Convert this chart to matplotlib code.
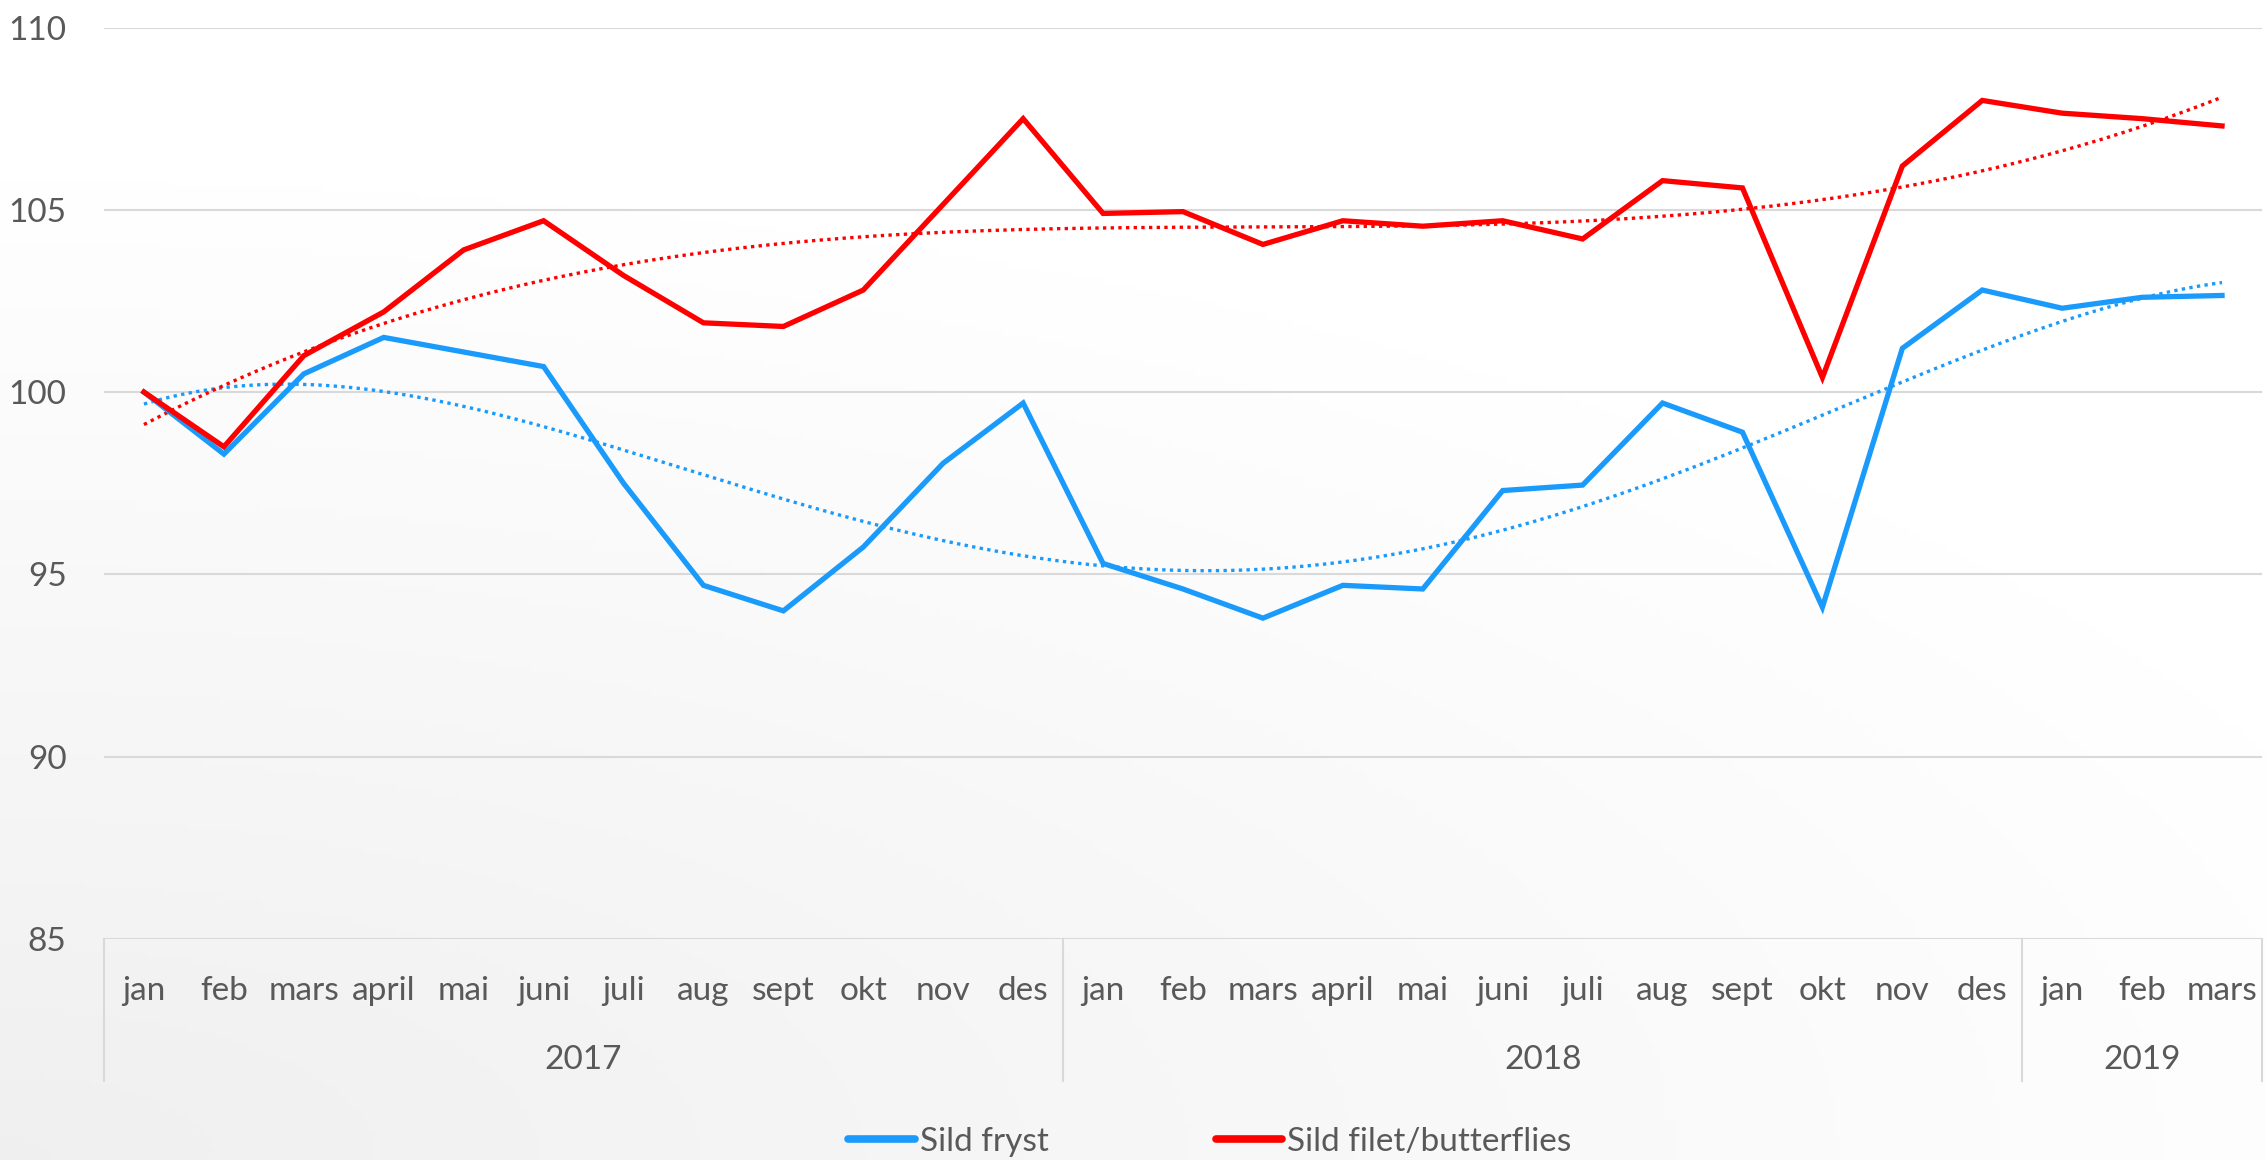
import numpy as np
import matplotlib
matplotlib.use("Agg")
import matplotlib.pyplot as plt
from matplotlib.lines import Line2D
import matplotlib.transforms as mtransforms

# ================= DATA =================
months = ["jan", "feb", "mars", "april", "mai", "juni", "juli", "aug", "sept", "okt", "nov", "des",
          "jan", "feb", "mars", "april", "mai", "juni", "juli", "aug", "sept", "okt", "nov", "des",
          "jan", "feb", "mars"]
years = ["2017", "2018", "2019"]
year_counts = [12, 12, 3]

sild_fryst = [100.0, 98.3, 100.5, 101.5, 101.1, 100.7, 97.5, 94.7, 94.0, 95.75, 98.05, 99.7,
              95.3, 94.6, 93.8, 94.7, 94.6, 97.3, 97.45, 99.7, 98.9, 94.1, 101.2, 102.8,
              102.3, 102.6, 102.65]
sild_filet = [100.0, 98.5, 101.0, 102.2, 103.9, 104.7, 103.2, 101.9, 101.8, 102.8, 105.15, 107.5,
              104.9, 104.95, 104.05, 104.7, 104.55, 104.7, 104.2, 105.8, 105.6, 100.4, 106.2, 108.0,
              107.65, 107.5, 107.3]

series_names = ["Sild fryst", "Sild filet/butterflies"]
colors = ["#1A9BFC", "#FF0000"]
trend_order = [4, 3]

# ================= STYLE =================
plt.rcParams['font.family'] = ['Lato', 'DejaVu Sans']
txt_col = "#595959"
fs = 24

W, H = 2266, 1160
fig = plt.figure(figsize=(W / 100, H / 100), dpi=100)

# background gradient (grey bottom-left -> white)
bg = fig.add_axes([0, 0, 1, 1], zorder=-10)
gx, gy = np.meshgrid(np.linspace(0, 1, 400), np.linspace(0, 1, 200))
d = np.clip(1 - np.sqrt((gx * 1.0) ** 2 + (gy * 1.3) ** 2) / 1.1, 0, 1)
shade = 1 - 0.06 * d
bg.imshow(np.dstack([shade, shade, shade]), origin="lower", extent=[0, 1, 0, 1], aspect="auto")
bg.axis("off")

ax = fig.add_axes([104 / W, 1 - 939 / H, (2262 - 104) / W, (939 - 27.5) / H])
ax.patch.set_alpha(0)

x = np.arange(len(months))

for vals, name, c, order in zip([sild_fryst, sild_filet], series_names, colors, trend_order):
    ax.plot(x, vals, color=c, lw=3.8, solid_joinstyle="miter", zorder=3, label=name)
    # polynomial trendline, like Excel
    coef = np.polyfit(x, vals, order)
    xs = np.linspace(0, len(months) - 1, 300)
    ax.plot(xs, np.polyval(coef, xs), color=c, lw=2.4, ls=(0, (1, 1.3)), zorder=2)

ax.set_xlim(-0.5, len(months) - 0.5)
ax.set_ylim(85, 110)
ax.set_yticks([85, 90, 95, 100, 105, 110])
ax.yaxis.grid(True, color="#D9D9D9", lw=1.5)
ax.set_axisbelow(True)
for s in ["top", "right", "left", "bottom"]:
    ax.spines[s].set_visible(False)
ax.tick_params(axis="y", length=0, labelsize=fs, labelcolor=txt_col, pad=27)

ax.set_xticks(x)
ax.set_xticklabels(months)
ax.tick_params(axis="x", length=0, labelsize=fs, labelcolor=txt_col, pad=27)

# year level of the category axis
trans = mtransforms.blended_transform_factory(ax.transData, ax.transAxes)
start = 0
bounds = [-0.5]
for yr, n in zip(years, year_counts):
    mid = start + (n - 1) / 2
    ax.text(mid, -0.133, yr, transform=trans, ha="center", va="center", fontsize=fs, color=txt_col)
    start += n
    bounds.append(start - 0.5)
for b in bounds:
    ax.add_line(Line2D([b, b], [0, -0.156], transform=trans, color="#D9D9D9", lw=1.5, clip_on=False))

# legend
handles = [Line2D([], [], color=c, lw=5.5, solid_capstyle="round") for c in colors]
fig.legend(handles, series_names, loc="center", bbox_to_anchor=(0.534, 1 - 1142 / H), ncol=2,
           frameon=False, fontsize=fs, labelcolor=txt_col, handlelength=2.0, handletextpad=0.15,
           columnspacing=5.0)

fig.savefig("out.png", dpi=100)
